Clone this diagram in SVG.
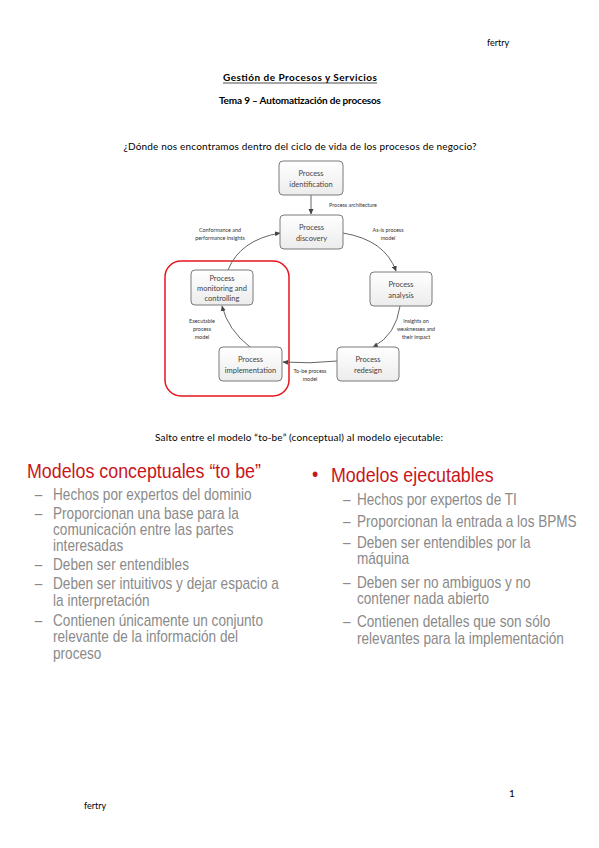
<svg xmlns="http://www.w3.org/2000/svg" width="599" height="848" viewBox="0 0 599 848">
<style>
.hdr{font-family:Lato,"Open Sans","Liberation Sans",sans-serif;fill:#000}
.nd rect{fill:url(#g);stroke:#7a7a7a;stroke-width:1}
.nd text{font-family:Lato,"Liberation Sans",sans-serif;font-size:7.5px;fill:#444;text-anchor:middle}
.el{font-family:Lato,"Liberation Sans",sans-serif;font-size:5.4px;fill:#333;text-anchor:middle}
.cn path{fill:none;stroke:#666;stroke-width:1;marker-end:url(#ah)}
.ttl{font-family:"Liberation Sans",Arial,sans-serif;font-size:21px;fill:#c9151b}
.it{font-family:"Liberation Sans",Arial,sans-serif;font-size:16px;fill:#8a8a8a}
</style>
<defs>
<linearGradient id="g" x1="0" y1="0" x2="0" y2="1"><stop offset="0" stop-color="#ffffff"/><stop offset="1" stop-color="#ececec"/></linearGradient>
<marker id="ah" markerWidth="6" markerHeight="6" refX="5" refY="3" orient="auto" markerUnits="userSpaceOnUse"><path d="M0,0.5 L5.5,3 L0,5.5 Z" fill="#444"/></marker>
</defs>
<rect width="599" height="848" fill="#fff"/>
<text class="hdr" x="487" y="46" font-size="9">fertry</text>
<text class="hdr" x="300" y="81" font-size="10" font-weight="bold" text-anchor="middle" textLength="154">Gestión de Procesos y Servicios</text>
<line x1="223" y1="83" x2="377" y2="83" stroke="#000" stroke-width="0.7"/>
<text class="hdr" x="300" y="104" font-size="10" font-weight="bold" text-anchor="middle" textLength="162">Tema 9 – Automatización de procesos</text>
<text class="hdr" x="300" y="150" font-size="10" text-anchor="middle" textLength="353">¿Dónde nos encontramos dentro del ciclo de vida de los procesos de negocio?</text>
<rect x="165" y="261" width="124" height="135" rx="16" fill="none" stroke="#e8141b" stroke-width="1.5"/>
<g class="cn">
<path d="M311,195 L311,214"/>
<path d="M343,233 Q385,240 396,271"/>
<path d="M400,306 Q396,335 373,347"/>
<path d="M337,361 Q310,364 283,362"/>
<path d="M250,347 Q228,330 222,306"/>
<path d="M228,270 Q240,240 280,233"/>
</g>
<g id="n-ident" class="nd"><rect x="279" y="161" width="64" height="34" rx="4"/><text x="311" y="176">Process</text><text x="311" y="187">identification</text></g>
<g id="n-disc" class="nd"><rect x="280" y="215" width="63" height="34" rx="4"/><text x="311.5" y="230">Process</text><text x="311.5" y="241">discovery</text></g>
<g id="n-analysis" class="nd"><rect x="370" y="272" width="62" height="34" rx="4"/><text x="401" y="287">Process</text><text x="401" y="298">analysis</text></g>
<g id="n-redesign" class="nd"><rect x="337" y="347" width="62" height="34" rx="4"/><text x="368" y="362">Process</text><text x="368" y="373">redesign</text></g>
<g id="n-impl" class="nd"><rect x="219" y="347" width="63" height="34" rx="4"/><text x="250.5" y="362">Process</text><text x="250.5" y="373">implementation</text></g>
<g id="n-monitor" class="nd"><rect x="191" y="270" width="62" height="35" rx="4"/><text x="222" y="281">Process</text><text x="222" y="291">monitoring and</text><text x="222" y="301">controlling</text></g>
<g id="edge-labels">
<text class="el" x="353" y="207">Process architecture</text>
<text class="el" x="220" y="232">Conformance and</text><text class="el" x="220" y="240">performance insights</text>
<text class="el" x="388" y="232">As-is process</text><text class="el" x="388" y="240">model</text>
<text class="el" x="416" y="323">Insights on</text><text class="el" x="416" y="331">weaknesses and</text><text class="el" x="416" y="339">their impact</text>
<text class="el" x="202" y="323">Executable</text><text class="el" x="202" y="331">process</text><text class="el" x="202" y="339">model</text>
<text class="el" x="310" y="373">To-be process</text><text class="el" x="310" y="381">model</text>
</g>
<text class="hdr" x="299" y="441" font-size="10" text-anchor="middle" textLength="288">Salto entre el modelo “to-be” (conceptual) al modelo ejecutable:</text>
<g id="left-col" transform="scale(0.85,1)">
<text class="ttl" x="31.8" y="478" font-size="21.7">Modelos conceptuales “to be”</text>
<text class="it" x="41" y="500">–</text><text class="it" x="62.4" y="500">Hechos por expertos del dominio</text>
<text class="it" x="41" y="519">–</text><text class="it" x="62.4" y="519">Proporcionan una base para la</text>
<text class="it" x="62.4" y="535">comunicación entre las partes</text>
<text class="it" x="62.4" y="551">interesadas</text>
<text class="it" x="41" y="570">–</text><text class="it" x="62.4" y="570">Deben ser entendibles</text>
<text class="it" x="41" y="589">–</text><text class="it" x="62.4" y="589">Deben ser intuitivos y dejar espacio a</text>
<text class="it" x="62.4" y="606">la interpretación</text>
<text class="it" x="41" y="626">–</text><text class="it" x="62.4" y="626">Contienen únicamente un conjunto</text>
<text class="it" x="62.4" y="642">relevante de la información del</text>
<text class="it" x="62.4" y="659">proceso</text>
</g>
<g id="right-col" transform="scale(0.85,1)">
<text class="ttl" x="367" y="481" font-size="17">•</text>
<text class="ttl" x="389.4" y="482" font-size="20">Modelos ejecutables</text>
<text class="it" x="403.5" y="505">–</text><text class="it" x="420" y="505">Hechos por expertos de TI</text>
<text class="it" x="403.5" y="527">–</text><text class="it" x="420" y="527">Proporcionan la entrada a los BPMS</text>
<text class="it" x="403.5" y="548">–</text><text class="it" x="420" y="548">Deben ser entendibles por la</text>
<text class="it" x="420" y="564">máquina</text>
<text class="it" x="403.5" y="588">–</text><text class="it" x="420" y="588">Deben ser no ambiguos y no</text>
<text class="it" x="420" y="604">contener nada abierto</text>
<text class="it" x="403.5" y="627">–</text><text class="it" x="420" y="627">Contienen detalles que son sólo</text>
<text class="it" x="420" y="644">relevantes para la implementación</text>
</g>
<text class="hdr" x="509" y="797" font-size="10">1</text>
<text class="hdr" x="84" y="809" font-size="9">fertry</text>
</svg>
